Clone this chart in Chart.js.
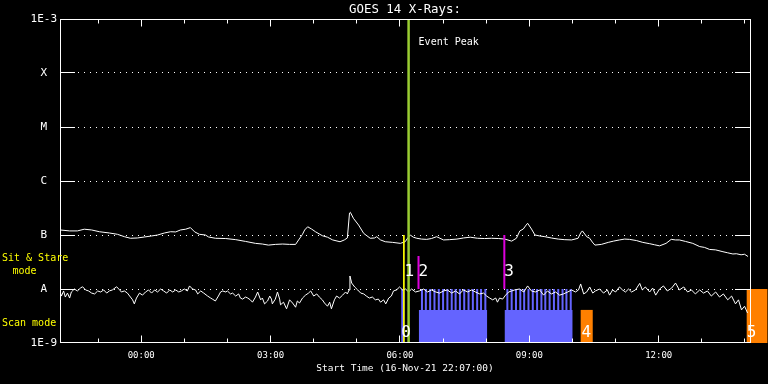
<!DOCTYPE html>
<html><head><meta charset="utf-8">
<script src="https://cdn.jsdelivr.net/npm/chart.js@4.4.1/dist/chart.umd.min.js"></script>
<style>html,body{margin:0;padding:0;background:#000;}canvas{display:block;}</style>
</head><body>
<canvas id="c" width="768" height="384"></canvas>
<script>
// ---- data (time in hours after 00:00 of 17-Nov-21, flux in W/m^2) ----
const xTickHours = [0, 3, 6, 9, 12];
const xTickLabels = ['00:00', '03:00', '06:00', '09:00', '12:00'];
const yTickValues = [1e-9, 1e-8, 1e-7, 1e-6, 1e-5, 1e-4, 1e-3];
const yTickLabels = ['1E-9', 'A', 'B', 'C', 'M', 'X', '1E-3'];
const chartTitle = 'GOES 14 X-Rays:';
const startTimeLabel = 'Start Time (16-Nov-21 22:07:00)';
const xMinHours = -1.8833, xMaxHours = 14.1167;

const longChannel = [[-1.88,1.24e-7],[-1.66,1.19e-7],[-1.48,1.19e-7],[-1.32,1.28e-7],[-1.15,1.24e-7],[-0.97,1.15e-7],[-0.74,1.09e-7],[-0.55,1.03e-7],[-0.39,9.3e-8],[-0.25,8.7e-8],[-0.09,8.8e-8],[0.08,9.2e-8],[0.24,9.6e-8],[0.38,1.0e-7],[0.54,1.09e-7],[0.68,1.15e-7],[0.80,1.14e-7],[0.91,1.24e-7],[1.03,1.28e-7],[1.14,1.37e-7],[1.24,1.14e-7],[1.35,1.03e-7],[1.49,1.0e-7],[1.56,9.2e-8],[1.72,8.7e-8],[1.96,8.6e-8],[2.19,8.2e-8],[2.42,7.6e-8],[2.65,7.0e-8],[2.81,6.8e-8],[2.95,6.5e-8],[3.11,6.7e-8],[3.28,6.8e-8],[3.44,6.7e-8],[3.58,6.7e-8],[3.65,8.1e-8],[3.74,1.03e-7],[3.79,1.24e-7],[3.86,1.42e-7],[3.95,1.29e-7],[4.04,1.15e-7],[4.20,9.7e-8],[4.32,9.1e-8],[4.44,8.1e-8],[4.61,7.5e-8],[4.71,8.1e-8],[4.78,8.8e-8],[4.83,2.55e-7],[4.85,2.63e-7],[4.92,2.04e-7],[5.04,1.53e-7],[5.16,1.07e-7],[5.31,8.7e-8],[5.41,8.8e-8],[5.46,9.3e-8],[5.55,8.1e-8],[5.66,7.5e-8],[5.83,7.3e-8],[6.01,7.0e-8],[6.12,7.5e-8],[6.18,8.8e-8],[6.24,1.0e-7],[6.31,9.1e-8],[6.39,8.7e-8],[6.50,8.4e-8],[6.62,8.3e-8],[6.73,8.6e-8],[6.85,9.3e-8],[7.01,8.1e-8],[7.15,8.2e-8],[7.32,8.4e-8],[7.47,8.8e-8],[7.63,9.1e-8],[7.80,8.7e-8],[7.96,8.6e-8],[8.12,8.7e-8],[8.29,8.6e-8],[8.43,8.4e-8],[8.59,7.7e-8],[8.70,8.7e-8],[8.78,1.19e-7],[8.86,1.29e-7],[8.91,1.47e-7],[8.96,1.65e-7],[9.05,1.29e-7],[9.13,1.0e-7],[9.24,9.6e-8],[9.36,9.3e-8],[9.51,8.8e-8],[9.67,8.4e-8],[9.81,8.2e-8],[9.98,8.1e-8],[10.13,8.7e-8],[10.19,1.09e-7],[10.23,1.19e-7],[10.33,9.3e-8],[10.40,8.7e-8],[10.46,7.4e-8],[10.52,6.5e-8],[10.67,6.7e-8],[10.83,7.3e-8],[10.95,7.7e-8],[11.09,8.1e-8],[11.21,8.4e-8],[11.32,8.3e-8],[11.48,7.9e-8],[11.63,7.3e-8],[11.79,6.9e-8],[11.90,6.6e-8],[12.02,6.3e-8],[12.17,7.0e-8],[12.29,8.3e-8],[12.39,8.1e-8],[12.48,8.1e-8],[12.62,7.6e-8],[12.79,7.0e-8],[12.95,6.1e-8],[13.06,5.9e-8],[13.18,5.4e-8],[13.32,5.3e-8],[13.49,4.9e-8],[13.59,4.7e-8],[13.72,4.45e-8],[13.80,4.5e-8],[13.91,4.3e-8],[13.99,4.4e-8],[14.07,4.0e-8]];

const shortChannel = [[-1.88,8.8e-9],[-1.85,7.4e-9],[-1.80,9.2e-9],[-1.76,7.1e-9],[-1.71,8.4e-9],[-1.66,6.8e-9],[-1.62,8.8e-9],[-1.55,1.0e-8],[-1.48,9.2e-9],[-1.41,1.04e-8],[-1.36,1.1e-8],[-1.29,9.6e-9],[-1.22,9.2e-9],[-1.15,8.4e-9],[-1.08,8.1e-9],[-1.01,9.2e-9],[-0.94,8.8e-9],[-0.87,9.6e-9],[-0.80,8.4e-9],[-0.74,9.2e-9],[-0.67,9.6e-9],[-0.57,1.1e-8],[-0.50,9.6e-9],[-0.46,8.8e-9],[-0.39,9.2e-9],[-0.32,8.4e-9],[-0.25,7.1e-9],[-0.20,6.3e-9],[-0.16,5.3e-9],[-0.11,6.8e-9],[-0.04,8.4e-9],[0.03,7.7e-9],[0.10,8.8e-9],[0.17,9.6e-9],[0.24,8.4e-9],[0.31,9.6e-9],[0.38,8.8e-9],[0.45,1.0e-8],[0.52,9.2e-9],[0.59,8.4e-9],[0.66,9.6e-9],[0.73,8.8e-9],[0.80,9.6e-9],[0.87,8.8e-9],[0.93,9.2e-9],[1.00,1.0e-8],[1.07,9.2e-9],[1.12,1.14e-8],[1.19,1.0e-8],[1.26,9.6e-9],[1.31,8.1e-9],[1.38,9.2e-9],[1.45,8.4e-9],[1.54,7.4e-9],[1.61,6.8e-9],[1.65,6.5e-9],[1.72,6.0e-9],[1.79,7.4e-9],[1.84,8.8e-9],[1.89,9.2e-9],[1.96,8.8e-9],[2.00,9.2e-9],[2.07,8.1e-9],[2.12,8.4e-9],[2.19,7.4e-9],[2.26,8.1e-9],[2.30,6.8e-9],[2.35,6.5e-9],[2.42,7.1e-9],[2.47,6.8e-9],[2.53,6.3e-9],[2.58,5.7e-9],[2.65,7.1e-9],[2.70,8.8e-9],[2.77,6.3e-9],[2.81,6.8e-9],[2.86,5.3e-9],[2.93,6.0e-9],[2.98,7.4e-9],[3.02,6.5e-9],[3.04,5.3e-9],[3.11,6.5e-9],[3.16,8.8e-9],[3.21,6.5e-9],[3.23,5.1e-9],[3.30,5.7e-9],[3.37,4.3e-9],[3.44,6.3e-9],[3.51,5.5e-9],[3.58,4.6e-9],[3.62,6.0e-9],[3.67,5.5e-9],[3.74,6.8e-9],[3.81,7.7e-9],[3.88,8.4e-9],[3.93,9.2e-9],[4.00,7.4e-9],[4.07,8.1e-9],[4.13,7.1e-9],[4.20,6.3e-9],[4.25,5.5e-9],[4.32,4.8e-9],[4.37,5.7e-9],[4.41,4.3e-9],[4.48,6.3e-9],[4.53,7.4e-9],[4.60,6.8e-9],[4.67,7.7e-9],[4.74,8.8e-9],[4.78,8.1e-9],[4.82,9.6e-9],[4.84,1.74e-8],[4.88,1.29e-8],[4.95,1.09e-8],[5.02,9.6e-9],[5.09,8.4e-9],[5.16,8.1e-9],[5.22,7.4e-9],[5.29,6.8e-9],[5.36,7.1e-9],[5.43,6.3e-9],[5.50,6.5e-9],[5.55,5.7e-9],[5.62,6.3e-9],[5.67,5.3e-9],[5.74,6.8e-9],[5.80,7.4e-9],[5.85,9.2e-9],[5.92,9.6e-9],[5.99,1.09e-8],[6.06,9.6e-9],[6.13,1.0e-8],[6.20,8.8e-9],[6.27,1.0e-8],[6.36,8.8e-9],[6.45,9.2e-9],[6.55,1.0e-8],[6.64,8.8e-9],[6.73,9.6e-9],[6.83,8.8e-9],[6.92,8.4e-9],[7.01,9.2e-9],[7.10,9.6e-9],[7.20,8.4e-9],[7.29,9.2e-9],[7.38,8.1e-9],[7.47,9.6e-9],[7.57,8.8e-9],[7.66,9.6e-9],[7.75,8.8e-9],[7.85,8.1e-9],[7.94,8.4e-9],[8.01,7.4e-9],[8.08,6.8e-9],[8.15,6.3e-9],[8.22,6.8e-9],[8.26,5.7e-9],[8.31,6.8e-9],[8.38,6.5e-9],[8.45,7.7e-9],[8.52,8.8e-9],[8.59,9.2e-9],[8.66,9.6e-9],[8.77,1.0e-8],[8.87,8.8e-9],[8.96,1.14e-8],[9.05,9.2e-9],[9.14,8.8e-9],[9.24,9.6e-9],[9.33,7.7e-9],[9.42,9.2e-9],[9.51,8.1e-9],[9.61,8.8e-9],[9.70,7.7e-9],[9.79,8.1e-9],[9.89,8.8e-9],[9.98,9.6e-9],[10.07,8.8e-9],[10.14,9.6e-9],[10.19,1.24e-8],[10.26,8.1e-9],[10.33,8.8e-9],[10.40,1.09e-8],[10.47,8.4e-9],[10.53,9.2e-9],[10.63,1.0e-8],[10.72,8.4e-9],[10.81,9.6e-9],[10.86,7.7e-9],[10.93,9.6e-9],[11.00,8.8e-9],[11.09,1.09e-8],[11.16,9.6e-9],[11.23,8.8e-9],[11.30,1.0e-8],[11.37,8.8e-9],[11.46,9.6e-9],[11.56,1.27e-8],[11.62,9.6e-9],[11.69,1.09e-8],[11.79,8.8e-9],[11.86,1.04e-8],[11.93,7.7e-9],[12.02,1.0e-8],[12.11,1.14e-8],[12.20,9.2e-9],[12.30,1.04e-8],[12.39,1.29e-8],[12.48,9.6e-9],[12.58,1.09e-8],[12.67,8.8e-9],[12.76,9.6e-9],[12.85,8.1e-9],[12.95,9.6e-9],[13.04,8.4e-9],[13.13,9.2e-9],[13.22,7.4e-9],[13.32,8.8e-9],[13.41,7.1e-9],[13.50,8.1e-9],[13.60,6.3e-9],[13.69,7.4e-9],[13.78,5.3e-9],[13.85,6.3e-9],[13.92,4.1e-9],[13.99,4.8e-9],[14.06,3.6e-9]];

// scan-mode raster stripes (times) and blocks
const scanStripeTimes = [6.51,6.60,6.70,6.80,6.90,7.00,7.10,7.20,7.29,7.39,7.49,7.59,7.69,7.79,7.88,7.98,
                         8.49,8.59,8.69,8.79,8.88,8.98,9.08,9.18,9.28,9.37,9.47,9.57,9.67,9.77,9.86,9.96];
const scanBlocks = [[6.44, 8.02], [8.43, 10.00]];
const scanBlockTop = 4.1e-9;
const sitStareLevel = 1e-8;
const scanSpike = [6.03, 6.10];
const orangeBlocks = [[10.19, 10.47, 4.1e-9], [14.04, 14.52, 1e-8]];
const eventPeakTime = 6.20;
const yellowLine = [6.09, 1e-7, 1e-9];
const magentaLines = [[6.43, 4.1e-8, 1e-8], [8.42, 1e-7, 1e-8]];
const markerNames = ['0', '1', '2', '3', '4', '5'];
const markerTimes = [6.03, 6.105, 6.43, 8.42, 10.21, 14.04];
const markerLevels = [1.53e-9, 2.07e-8, 2.07e-8, 2.07e-8, 1.53e-9, 1.53e-9];

// ---- styles ----
const MONO = '"DejaVu Sans Mono", "Liberation Mono", monospace';
const BLUE = '#6464ff', ORANGE = '#ff8000', MAGENTA = '#dd00dd', YELLOW = '#ffff00', GREEN = '#9acd32';

const toXY = arr => arr.map(p => ({x: p[0], y: p[1]}));
function segs(list) { // vertical segments separated by gaps
  const out = [];
  list.forEach(s => { out.push({x: s[0], y: s[1]}, {x: s[0], y: s[2]}, {x: s[0], y: null}); });
  return out;
}
// a rectangle [start,end] x [1e-9, top] drawn as a thick vertical stroke (not clipped to the plot)
function blockDs(s, e, top, color) {
  return {
    data: [{x: (s + e) / 2, y: 1e-9}, {x: (s + e) / 2, y: top}],
    borderColor: color, borderCapStyle: 'butt', pointRadius: 0, order: 5, clip: false,
    borderWidth: ctx => {
      const xs = ctx.chart.scales.x;
      return xs ? Math.max(1, xs.getPixelForValue(e) - xs.getPixelForValue(s)) : 1;
    }
  };
}

const datasets = [
  {data: toXY(longChannel), borderColor: '#fff', borderWidth: 1, pointRadius: 0, tension: 0, order: 1},
  {data: toXY(shortChannel), borderColor: '#fff', borderWidth: 1, pointRadius: 0, tension: 0, order: 1},
  {data: segs([[eventPeakTime, 1e-9, 1e-3]]), borderColor: GREEN, borderWidth: 2.5, pointRadius: 0, order: 0},
  {data: segs([yellowLine]), borderColor: YELLOW, borderWidth: 1, pointRadius: 0, order: 0},
  {data: segs(magentaLines), borderColor: MAGENTA, borderWidth: 2, pointRadius: 0, order: 0},
  {data: segs(scanStripeTimes.map(t => [t, scanBlockTop, sitStareLevel])), borderColor: BLUE, borderWidth: 2, borderCapStyle: 'butt', pointRadius: 0, order: 4},
  blockDs(scanSpike[0], scanSpike[1], sitStareLevel, BLUE),
  ...scanBlocks.map(b => blockDs(b[0], b[1], scanBlockTop, BLUE)),
  ...orangeBlocks.map(b => blockDs(b[0], b[1], b[2], ORANGE))
];

const decor = {
  id: 'decor',
  beforeDraw(chart) {
    const c = chart.ctx; c.save(); c.fillStyle = '#000'; c.fillRect(0, 0, chart.width, chart.height); c.restore();
  },
  beforeDatasetsDraw(chart) {
    const c = chart.ctx, a = chart.chartArea, y = chart.scales.y;
    c.save(); c.strokeStyle = '#fff'; c.lineWidth = 1;
    yTickValues.slice(1, -1).forEach(v => {
      const py = Math.floor(y.getPixelForValue(v)) + 0.5;
      c.setLineDash([1, 5]); c.beginPath(); c.moveTo(a.left + 18, py); c.lineTo(a.right - 15, py); c.stroke();
    });
    c.restore();
  },
  afterDatasetsDraw(chart) {
    const c = chart.ctx, a = chart.chartArea, x = chart.scales.x, y = chart.scales.y;
    c.save(); c.strokeStyle = '#fff'; c.lineWidth = 1; c.setLineDash([]);
    // frame
    c.strokeRect(a.left + 0.5, a.top + 0.5, a.right - a.left, a.bottom - a.top - 1);
    // y major ticks
    c.beginPath();
    yTickValues.slice(1, -1).forEach(v => {
      const py = Math.floor(y.getPixelForValue(v)) + 0.5;
      c.moveTo(a.left, py); c.lineTo(a.left + 15, py);
      c.moveTo(a.right - 15, py); c.lineTo(a.right + 1, py);
    });
    // x hourly ticks
    for (let h = Math.ceil(xMinHours); h <= Math.floor(xMaxHours); h++) {
      const px = Math.floor(x.getPixelForValue(h)) + 0.5;
      const len = (h % 3 === 0) ? 7 : 4;
      c.moveTo(px, a.top + 0.5); c.lineTo(px, a.top + 0.5 + len);
      c.moveTo(px, a.bottom - 0.5); c.lineTo(px, a.bottom - 0.5 - len);
    }
    c.stroke();

    c.fillStyle = '#fff'; c.textBaseline = 'middle';
    c.font = '12.4px ' + MONO; c.textAlign = 'center';
    c.fillText(chartTitle, (a.left + a.right) / 2, 10);
    c.font = '10px ' + MONO; c.textAlign = 'left';
    c.fillText('Event Peak', x.getPixelForValue(eventPeakTime) + 10, a.top + 23);

    c.fillStyle = YELLOW;
    c.fillText('Sit & Stare', 2, 258.5);
    c.textAlign = 'center'; c.fillText('mode', 24.5, 271);
    c.textAlign = 'left'; c.fillText('Scan mode', 2, 323);

    c.fillStyle = '#fff'; c.font = '16px ' + MONO;
    markerNames.forEach((n, i) => {
      c.fillText(n, x.getPixelForValue(markerTimes[i]), y.getPixelForValue(markerLevels[i]));
    });
    c.restore();
  }
};

Chart.defaults.font.family = MONO;
new Chart(document.getElementById('c'), {
  type: 'line',
  data: {datasets},
  options: {
    responsive: false, animation: false, events: [],
    layout: {padding: {top: 19, right: 18, left: 0, bottom: 0}},
    plugins: {legend: {display: false}, tooltip: {enabled: false}, title: {display: false}},
    scales: {
      x: {
        type: 'linear', min: xMinHours, max: xMaxHours,
        grid: {display: false, drawTicks: false}, border: {display: false},
        afterBuildTicks: s => { s.ticks = xTickHours.map(v => ({value: v})); },
        afterFit: s => { s.height = 41; },
        ticks: {autoSkip: false, maxRotation: 0, color: '#fff', font: {size: 9}, padding: 7,
                callback: (v, i) => xTickLabels[i]},
        title: {display: true, text: startTimeLabel, color: '#fff', font: {size: 9.5}, padding: {top: 0, bottom: 10}}
      },
      y: {
        type: 'logarithmic', min: 1e-9, max: 1e-3,
        grid: {display: false, drawTicks: false}, border: {display: false},
        afterBuildTicks: s => { s.ticks = yTickValues.map(v => ({value: v})); },
        afterFit: s => { s.width = 60; },
        ticks: {autoSkip: false, color: '#fff', font: {size: 11}, padding: 3, crossAlign: 'center',
                callback: (v, i) => yTickLabels[i]}
      }
    }
  },
  plugins: [decor]
});
</script>
</body></html>
